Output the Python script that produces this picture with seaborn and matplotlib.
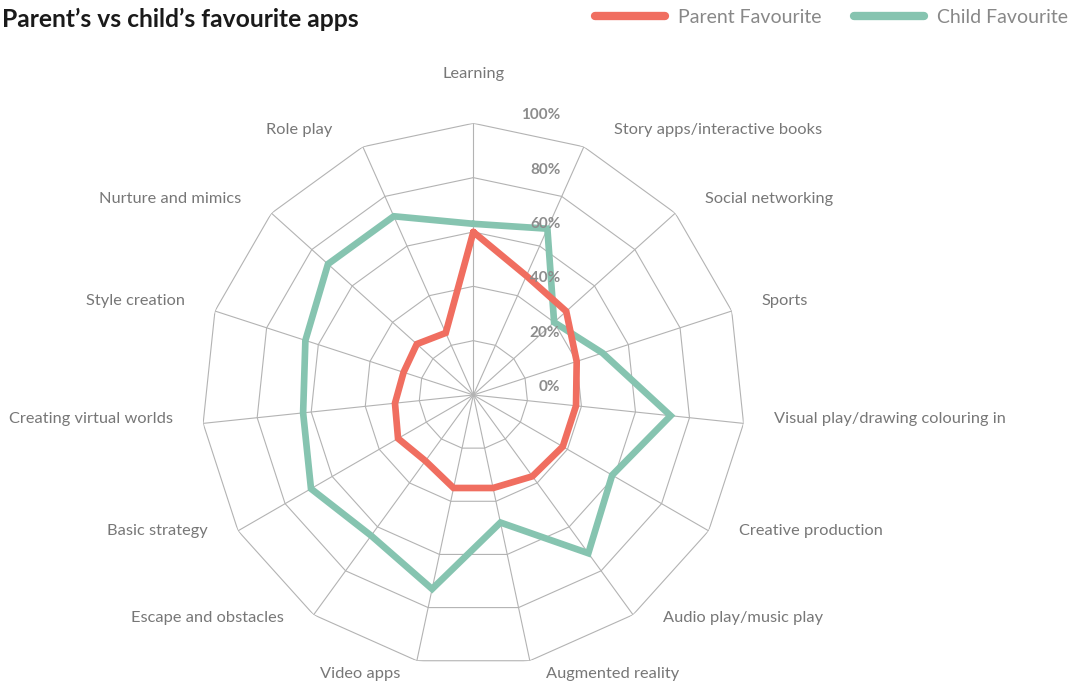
import numpy as np
import pandas as pd
import matplotlib
matplotlib.use("Agg")
import matplotlib.pyplot as plt
import seaborn as sns

categories = ["Learning", "Story apps/interactive books", "Social networking", "Sports",
              "Visual play/drawing colouring in", "Creative production", "Audio play/music play",
              "Augmented reality", "Video apps", "Escape and obstacles", "Basic strategy",
              "Creating virtual worlds", "Style creation", "Nurture and mimics", "Role play"]
parent = [60, 48, 46, 40, 38, 38, 37, 35, 35, 30, 32, 29, 27, 28, 25]
child = [63, 67, 40, 50, 73, 59, 72, 48, 73, 64, 69, 63, 65, 72, 72]
ring_ticks = [0, 20, 40, 60, 80, 100]
ring_labels = [f"{t}%" for t in ring_ticks]

sns.set_theme(style="white")
plt.rcParams["font.family"] = ["Lato", "DejaVu Sans"]

n = len(categories)
angles = np.linspace(0, 2 * np.pi, n, endpoint=False)
closed = list(angles) + [2 * np.pi]

rows = []
for name, vals in [("Child Favourite", child), ("Parent Favourite", parent)]:
    for a, v in zip(closed, vals + vals[:1]):
        rows.append({"angle": a, "value": v, "series": name})
df = pd.DataFrame(rows)

palette = {"Parent Favourite": "#F06E60", "Child Favourite": "#86C4B0"}
grid_col = "#b3b3b3"

fig = plt.figure(figsize=(10.77, 6.88), dpi=100)
ax = fig.add_axes([0.1872, 0.031, 0.5046, 0.7898], projection="polar")
ax.set_theta_zero_location("N")
ax.set_theta_direction(-1)

# polygon rings
for t in ring_ticks[1:]:
    ax.plot(closed, [t] * (n + 1), color=grid_col, lw=0.8, zorder=1)

sns.lineplot(data=df, x="angle", y="value", hue="series", palette=palette,
             hue_order=["Child Favourite", "Parent Favourite"],
             sort=False, estimator=None, lw=4.8, ax=ax, zorder=3)
for line in ax.lines:
    line.set_solid_joinstyle("miter")

ax.set_ylim(0, 100)
ax.set_thetagrids(np.degrees(angles), labels=[""] * n)
ax.xaxis.grid(True, color=grid_col, lw=0.8)
ax.yaxis.grid(False)
ax.set_yticks([])
ax.set_xlabel("")
ax.set_ylabel("")
ax.spines["polar"].set_visible(False)
ax.set_facecolor("none")

# radial tick labels
for t, lab in zip(ring_ticks, ring_labels):
    ax.annotate(lab, xy=(0, t), xytext=(87, 8), textcoords="offset pixels",
                ha="right", va="center", fontsize=11, fontweight="bold",
                color="#8c8c8c", annotation_clip=False, zorder=5)

# category labels
for a, name in zip(angles, categories):
    s, c = np.sin(a), np.cos(a)
    if abs(s) < 0.05:
        ha, dx, dy = "center", 0, 49
    else:
        ha = "left" if s > 0 else "right"
        dx = (16 if abs(s) < 0.3 else 30) * np.sign(s)
        dy = 6 + 12 * c - (8 if c < -0.9 else 0)
    ax.annotate(name, xy=(a, 100), xytext=(dx, dy), textcoords="offset pixels",
                ha=ha, va="center", fontsize=11.8, color="#777777",
                annotation_clip=False)

# legend
handles, labels = ax.get_legend_handles_labels()
ax.get_legend().remove()
order = [labels.index("Parent Favourite"), labels.index("Child Favourite")]
leg = fig.legend([handles[i] for i in order], [labels[i] for i in order],
                 loc="center right", bbox_to_anchor=(0.992, 0.975), ncol=2,
                 frameon=False, fontsize=14, handlelength=3.6, handletextpad=0.67,
                 columnspacing=1.7, borderpad=0, borderaxespad=0)
for ln in leg.get_lines():
    ln.set_linewidth(6)
    ln.set_solid_capstyle("round")
for txt in leg.get_texts():
    txt.set_color("#888888")

fig.text(0.002, 1 - 19 / 688, "Parent’s vs child’s favourite apps", ha="left",
         va="center", fontsize=17.7, fontweight="bold", color="#1a1a1a")

fig.savefig("out.png", dpi=100)
